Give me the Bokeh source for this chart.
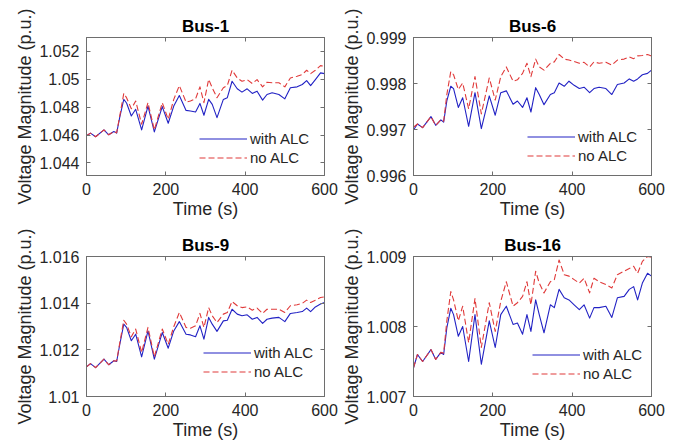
from bokeh.plotting import figure
from bokeh.models import Range1d, FixedTicker, LinearAxis, Legend, LegendItem
from bokeh.layouts import column, row
from bokeh.embed import file_html
from bokeh.resources import INLINE

time_s = [0, 10, 23, 44, 56, 69, 76, 84, 94, 101, 113, 124, 139, 155, 171, 191,
          206, 220, 234, 251, 262, 275, 286, 296, 308, 317, 329, 345, 355, 367,
          380, 392, 405, 418, 430, 444, 455, 468, 485, 500, 514, 531, 544, 555,
          565, 577, 590, 600]

bus1_alc = [1.04595, 1.04614, 1.04588, 1.04637, 1.04602, 1.04626, 1.04614, 1.0473,
            1.04856, 1.0483, 1.04737, 1.04785, 1.04637, 1.04808, 1.04623, 1.04804,
            1.04685, 1.04808, 1.04884, 1.04777, 1.04773, 1.04766, 1.04827, 1.04742,
            1.04856, 1.0482, 1.04725, 1.04856, 1.04868, 1.04986, 1.04932, 1.04908,
            1.04932, 1.04899, 1.04915, 1.04851, 1.04891, 1.04903, 1.04891, 1.0486,
            1.04939, 1.04946, 1.04963, 1.04991, 1.04955, 1.04998, 1.05046, 1.05041]
bus1_noalc = [1.04595, 1.04614, 1.04588, 1.04637, 1.04602, 1.04626, 1.04616, 1.0474,
              1.04899, 1.04868, 1.04789, 1.04844, 1.04678, 1.04832, 1.04637, 1.04832,
              1.04713, 1.04856, 1.04955, 1.04837, 1.04844, 1.0486, 1.04946, 1.04832,
              1.05, 1.04939, 1.04868, 1.04939, 1.04955, 1.05065, 1.0501, 1.04986,
              1.04998, 1.0497, 1.04998, 1.04946, 1.04979, 1.04975, 1.04975, 1.04946,
              1.0501, 1.05022, 1.05034, 1.05065, 1.05041, 1.05065, 1.05098, 1.05093]

bus6_alc = [0.99699, 0.99712, 0.99704, 0.99728, 0.99709, 0.99721, 0.99716, 0.99762,
            0.99794, 0.99789, 0.99748, 0.99769, 0.99707, 0.9978, 0.99702, 0.99773,
            0.99731, 0.9978, 0.99784, 0.99755, 0.99762, 0.99748, 0.99769, 0.99738,
            0.99791, 0.99776, 0.99754, 0.99776, 0.9978, 0.99801, 0.99794, 0.99805,
            0.99796, 0.99789, 0.99792, 0.9978, 0.99789, 0.99792, 0.99789, 0.99776,
            0.99798, 0.99801, 0.9981, 0.99805, 0.9981, 0.99819, 0.99822, 0.99829]
bus6_noalc = [0.99705, 0.99712, 0.99704, 0.99728, 0.99709, 0.99721, 0.99718, 0.99776,
              0.99826, 0.99819, 0.99787, 0.99801, 0.99745, 0.99815, 0.99734, 0.99812,
              0.99764, 0.99815, 0.99836, 0.99805, 0.99808, 0.99822, 0.99844, 0.99815,
              0.99853, 0.99836, 0.99829, 0.99844, 0.99847, 0.99863, 0.99853, 0.99851,
              0.99848, 0.99844, 0.99846, 0.99836, 0.99847, 0.99844, 0.99846, 0.9984,
              0.99851, 0.99853, 0.99858, 0.99854, 0.9986, 0.99861, 0.99863, 0.9986]

bus9_alc = [1.01127, 1.01141, 1.01124, 1.0116, 1.01136, 1.01153, 1.0115, 1.01224,
            1.0131, 1.01296, 1.01239, 1.01267, 1.0117, 1.01281, 1.0116, 1.01274,
            1.01207, 1.01281, 1.01321, 1.01267, 1.01264, 1.01256, 1.01303, 1.01246,
            1.01339, 1.0131, 1.01279, 1.01324, 1.01327, 1.01374, 1.01353, 1.01346,
            1.0135, 1.01331, 1.01339, 1.01313, 1.01331, 1.01336, 1.01339, 1.01321,
            1.01356, 1.0136, 1.01364, 1.01379, 1.01364, 1.01384, 1.01396, 1.01403]
bus9_noalc = [1.01127, 1.01141, 1.01124, 1.0116, 1.01136, 1.01153, 1.01152, 1.01231,
              1.01327, 1.0131, 1.01256, 1.01289, 1.01189, 1.01296, 1.0117, 1.01289,
              1.01224, 1.01299, 1.0136, 1.01296, 1.01293, 1.01303, 1.01356, 1.01296,
              1.01381, 1.01346, 1.01317, 1.01353, 1.0136, 1.01407, 1.01389, 1.01381,
              1.01384, 1.0137, 1.01379, 1.01356, 1.01374, 1.01374, 1.01374, 1.0136,
              1.01389, 1.01393, 1.01399, 1.01413, 1.01403, 1.01413, 1.01424, 1.01427]

bus16_alc = [1.00741, 1.0076, 1.0075, 1.00767, 1.00753, 1.00763, 1.0076, 1.00798,
             1.00826, 1.00817, 1.00786, 1.008, 1.0075, 1.00817, 1.00746, 1.00808,
             1.0077, 1.00817, 1.00829, 1.00803, 1.00805, 1.00789, 1.00817, 1.00793,
             1.00838, 1.00817, 1.00791, 1.00831, 1.00827, 1.00853, 1.00841, 1.00838,
             1.00831, 1.00824, 1.00831, 1.00812, 1.00827, 1.00827, 1.00829, 1.00813,
             1.00841, 1.00843, 1.00853, 1.00857, 1.00838, 1.00862, 1.00876, 1.00872]
bus16_noalc = [1.00741, 1.0076, 1.0075, 1.00767, 1.00753, 1.00763, 1.00762, 1.00808,
               1.0085, 1.00838, 1.00808, 1.00829, 1.00777, 1.0084, 1.0077, 1.00834,
               1.00793, 1.00836, 1.00864, 1.00829, 1.00834, 1.00843, 1.00864, 1.00831,
               1.00879, 1.00862, 1.00848, 1.00864, 1.00867, 1.00895, 1.00874, 1.00872,
               1.00867, 1.00862, 1.00869, 1.00848, 1.00869, 1.00864, 1.0086, 1.00855,
               1.00874, 1.00879, 1.00883, 1.00886, 1.00876, 1.00893, 1.009, 1.00899]

titles = ["Bus-1", "Bus-6", "Bus-9", "Bus-16"]
series_labels = ["with ALC", "no ALC"]
x_label = "Time (s)"
y_label = "Voltage Magnitude (p.u.)"
x_ticks = [0, 200, 400, 600]
x_tick_labels = ["0", "200", "400", "600"]

bus1_y_ticks = [1.044, 1.046, 1.048, 1.05, 1.052]
bus1_y_tick_labels = ["1.044", "1.046", "1.048", "1.05", "1.052"]
bus6_y_ticks = [0.996, 0.997, 0.998, 0.999]
bus6_y_tick_labels = ["0.996", "0.997", "0.998", "0.999"]
bus9_y_ticks = [1.01, 1.012, 1.014, 1.016]
bus9_y_tick_labels = ["1.01", "1.012", "1.014", "1.016"]
bus16_y_ticks = [1.007, 1.008, 1.009]
bus16_y_tick_labels = ["1.007", "1.008", "1.009"]

FONT = "Liberation Sans"
AX_COLOR = "#6e6e6e"
TXT_COLOR = "#262626"
BLUE = "#2222c4"
RED = "#e03a3a"


def style_axis(ax, ticks, labels, show_labels, axis_label=None):
    ax.ticker = FixedTicker(ticks=ticks)
    ax.major_label_overrides = {t: l for t, l in zip(ticks, labels)}
    ax.axis_line_color = AX_COLOR
    ax.major_tick_line_color = AX_COLOR
    ax.major_tick_in = 4
    ax.major_tick_out = 0
    ax.minor_tick_line_color = None
    if show_labels:
        ax.major_label_text_font = FONT
        ax.major_label_text_font_size = "16px"
        ax.major_label_text_color = TXT_COLOR
        ax.major_label_standoff = 7
        if axis_label is not None:
            ax.axis_label = axis_label
            ax.axis_label_text_font = FONT
            ax.axis_label_text_font_size = "18px"
            ax.axis_label_text_font_style = "normal"
            ax.axis_label_text_color = TXT_COLOR
            ax.axis_label_standoff = 1
    else:
        ax.major_label_text_color = None
        ax.major_label_text_font_size = "0px"
        ax.major_label_standoff = 0


def make_panel(title, alc, noalc, y_lo, y_hi, y_ticks, y_tick_labels,
               w, h, bl, br, bt, bb, leg_xy):
    p = figure(width=w, height=h, x_range=Range1d(0, 600),
               y_range=Range1d(y_lo, y_hi), output_backend="svg",
               toolbar_location=None, min_border_left=bl, min_border_right=br,
               min_border_top=bt, min_border_bottom=bb)
    p.grid.visible = False
    p.outline_line_color = AX_COLOR
    p.background_fill_color = "white"
    p.border_fill_color = "white"
    style_axis(p.xaxis[0], x_ticks, x_tick_labels, True, x_label)
    style_axis(p.yaxis[0], y_ticks, y_tick_labels, True, y_label)
    top = LinearAxis()
    style_axis(top, x_ticks, x_tick_labels, False)
    p.add_layout(top, "above")
    right = LinearAxis()
    style_axis(right, y_ticks, y_tick_labels, False)
    p.add_layout(right, "right")

    p.title.text = title
    p.title.text_font = FONT
    p.title.text_font_size = "17px"
    p.title.text_font_style = "bold"
    p.title.text_color = "black"
    p.title.align = "center"
    p.title.standoff = 3

    r1 = p.line(time_s, alc, line_color=BLUE, line_width=1.1, line_join="round")
    r2 = p.line(time_s, noalc, line_color=RED, line_width=1.1, line_dash="6 3",
                line_join="round")
    leg = Legend(items=[LegendItem(label=series_labels[0], renderers=[r1]),
                        LegendItem(label=series_labels[1], renderers=[r2])],
                 location=leg_xy)
    leg.label_text_font = FONT
    leg.label_text_font_size = "15px"
    leg.label_text_color = TXT_COLOR
    leg.label_height = 19
    leg.glyph_height = 19
    leg.glyph_width = 48
    leg.label_standoff = 3
    leg.padding = 0
    leg.spacing = 0
    leg.margin = 0
    leg.border_line_color = None
    leg.background_fill_alpha = 0
    p.add_layout(leg)
    return p


p1 = make_panel(titles[0], bus1_alc, bus1_noalc, 1.0431, 1.0530,
                bus1_y_ticks, bus1_y_tick_labels, 339, 226, 86, 15, 37, 49, (113, 8))
p2 = make_panel(titles[1], bus6_alc, bus6_noalc, 0.996, 0.999,
                bus6_y_ticks, bus6_y_tick_labels, 339, 226, 73, 27, 35, 51, (114, 10))
p3 = make_panel(titles[2], bus9_alc, bus9_noalc, 1.010, 1.016,
                bus9_y_ticks, bus9_y_tick_labels, 339, 221, 86, 15, 30, 51, (117, 15))
p4 = make_panel(titles[3], bus16_alc, bus16_noalc, 1.007, 1.009,
                bus16_y_ticks, bus16_y_tick_labels, 339, 221, 73, 27, 30, 51, (119, 13))

layout = column(row(p1, p2, spacing=0), row(p3, p4, spacing=0), spacing=0)

open("out.html", "w").write(file_html(layout, INLINE))
